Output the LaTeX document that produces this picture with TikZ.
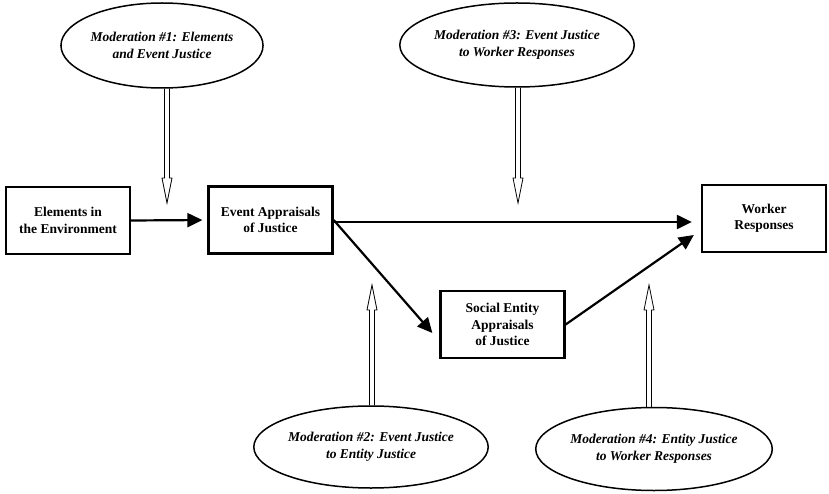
\documentclass[tikz,border=0pt]{standalone}
\usepackage{fontspec}
\setmainfont{Liberation Serif}
\usetikzlibrary{arrows.meta,shapes.geometric,calc}
\tikzset{
  box/.style={draw, line width=2.3pt, minimum width=124pt, minimum height=67pt, inner sep=2pt, align=center,
    font=\fontsize{13.5}{16.5}\selectfont\bfseries},
  moder/.style={draw, ellipse, line width=1.5pt, inner sep=0pt, align=center,
    font=\fontsize{13.5}{17}\selectfont\bfseries\itshape},
  link/.style={line width=2.2pt, -{Triangle[length=15pt,width=14pt]}},
  hollowarr/.style={line width=0.8pt, line join=miter}
}
\newcommand\hdownarr[2]{\draw[hollowarr] let \p1=(#1), \p2=(#2) in
  (\x2-2.5pt,\y1) -- (\x2-2.5pt,\y2+25pt) -- (\x2-5pt,\y2+25pt) -- (\x2,\y2) -- (\x2+5pt,\y2+25pt) -- (\x2+2.5pt,\y2+25pt) -- (\x2+2.5pt,\y1);}
\newcommand\huparr[2]{\draw[hollowarr] let \p1=(#1), \p2=(#2) in
  (\x2-2.5pt,\y1) -- (\x2-2.5pt,\y2-25pt) -- (\x2-5pt,\y2-25pt) -- (\x2,\y2) -- (\x2+5pt,\y2-25pt) -- (\x2+2.5pt,\y2-25pt) -- (\x2+2.5pt,\y1);}
\begin{document}
\begin{tikzpicture}[x=1pt,y=-1pt]
\useasboundingbox (0,0) rectangle (829,494);
% boxes
\node[box] (el) at (68,220.5) {Elements in\\the Environment};
\node[box] (ev) at (270.5,220) {Event Appraisals\\of Justice};
\node[box] (so) at (502.5,324.5) {Social Entity\\Appraisals\\of Justice};
\node[box] (wr) at (764,218.5) {Worker\\Responses};
% moderation ellipses
\node[moder, minimum width=190pt, minimum height=85pt] (e1) at (162,45.5) {Moderation \#1: Elements\\and Event Justice};
\node[moder, minimum width=192pt, minimum height=84pt] (e3) at (517,45) {Moderation \#3: Event Justice\\to Worker Responses};
\node[moder, minimum width=188pt, minimum height=82pt] (e2) at (371,447) {Moderation \#2: Event Justice\\to Entity Justice};
\node[moder, minimum width=186pt, minimum height=83pt] (e4) at (654,449) {Moderation \#4: Entity Justice\\to Worker Responses};
% tips of moderation arrows
\coordinate (t1) at (167,203);
\coordinate (t3) at (518,203);
\coordinate (t2) at (372,285);
\coordinate (t4) at (649,285);
% main connectors
\draw[link, shorten >=5pt] (el.east) -- (ev.west);
\draw[link, shorten >=9pt] ($(ev.east)+(0,2)$) -- ($(ev.east -| wr.west)+(0,2)$);
\draw[link] (ev.east) -- ($(so.west)+(-7,8.5)$);
\draw[link] (so.east) -- ($(wr.west)+(-7,16.5)$);
% moderation arrows
\hdownarr{e1.south}{t1}
\hdownarr{e3.south}{t3}
\huparr{e2.north}{t2}
\huparr{e4.north}{t4}
\end{tikzpicture}
\end{document}
